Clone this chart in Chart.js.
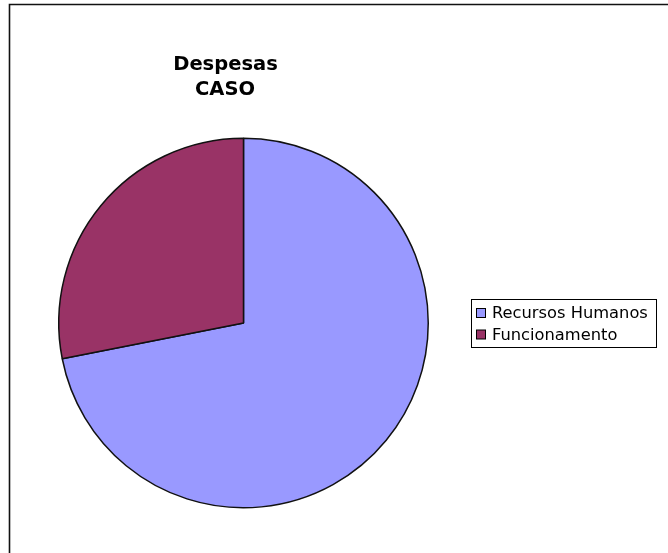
<!DOCTYPE html>
<html lang="pt">
<head>
<meta charset="UTF-8" />
<title>Despesas CASO</title>
<script src="https://cdn.jsdelivr.net/npm/chart.js@4.4.0/dist/chart.umd.min.js"></script>
<style>
  html, body { margin: 0; padding: 0; background: #fff; }
  #wrap { position: relative; width: 668px; height: 553px; }
</style>
</head>
<body>
<div id="wrap"><canvas id="chart" width="668" height="553"></canvas></div>
<script>
const categories = ['Recursos Humanos', 'Funcionamento'];
const values = [71.9, 28.1];
const colors = ['#9999ff', '#993366'];
const titleLines = ['Despesas', 'CASO'];

// frame, title and legend drawn around the pie
const extras = {
  id: 'extras',
  afterDraw(chart) {
    const ctx = chart.ctx;
    ctx.save();
    // frame (only top and left visible)
    ctx.strokeStyle = '#111';
    ctx.lineWidth = 1.6;
    ctx.beginPath();
    ctx.moveTo(9.5, 553);
    ctx.lineTo(9.5, 4.5);
    ctx.lineTo(668, 4.5);
    ctx.stroke();

    // title
    ctx.fillStyle = '#000';
    ctx.font = 'bold 19.5px "DejaVu Sans"';
    ctx.textAlign = 'center';
    ctx.textBaseline = 'alphabetic';
    ctx.fillText(titleLines[0], 225.5, 70);
    ctx.fillText(titleLines[1], 225, 95);

    // legend
    ctx.lineWidth = 1;
    ctx.strokeStyle = '#000';
    ctx.strokeRect(471.5, 299.5, 185, 48);
    ctx.font = '16.3px "DejaVu Sans"';
    ctx.textAlign = 'left';
    ctx.textBaseline = 'middle';
    const ds = chart.data.datasets[0];
    chart.data.labels.forEach((lab, i) => {
      const y = 313 + i * 21.5;
      ctx.fillStyle = ds.backgroundColor[i];
      ctx.fillRect(476.5, y - 4.5, 9, 9);
      ctx.strokeRect(476.5, y - 4.5, 9, 9);
      ctx.fillStyle = '#000';
      ctx.fillText(lab, 492, y + 1);
    });
    ctx.restore();
  }
};

new Chart(document.getElementById('chart'), {
  type: 'pie',
  data: {
    labels: categories,
    datasets: [{
      data: values,
      backgroundColor: colors,
      borderColor: '#111',
      borderWidth: 1.5,
      borderAlign: 'center',
      hoverOffset: 0
    }]
  },
  options: {
    responsive: false,
    animation: false,
    events: [],
    layout: { padding: { left: 58, right: 239, top: 137, bottom: 44 } },
    plugins: {
      legend: { display: false },
      title: { display: false },
      tooltip: { enabled: false }
    }
  },
  plugins: [extras]
});
</script>
</body>
</html>
